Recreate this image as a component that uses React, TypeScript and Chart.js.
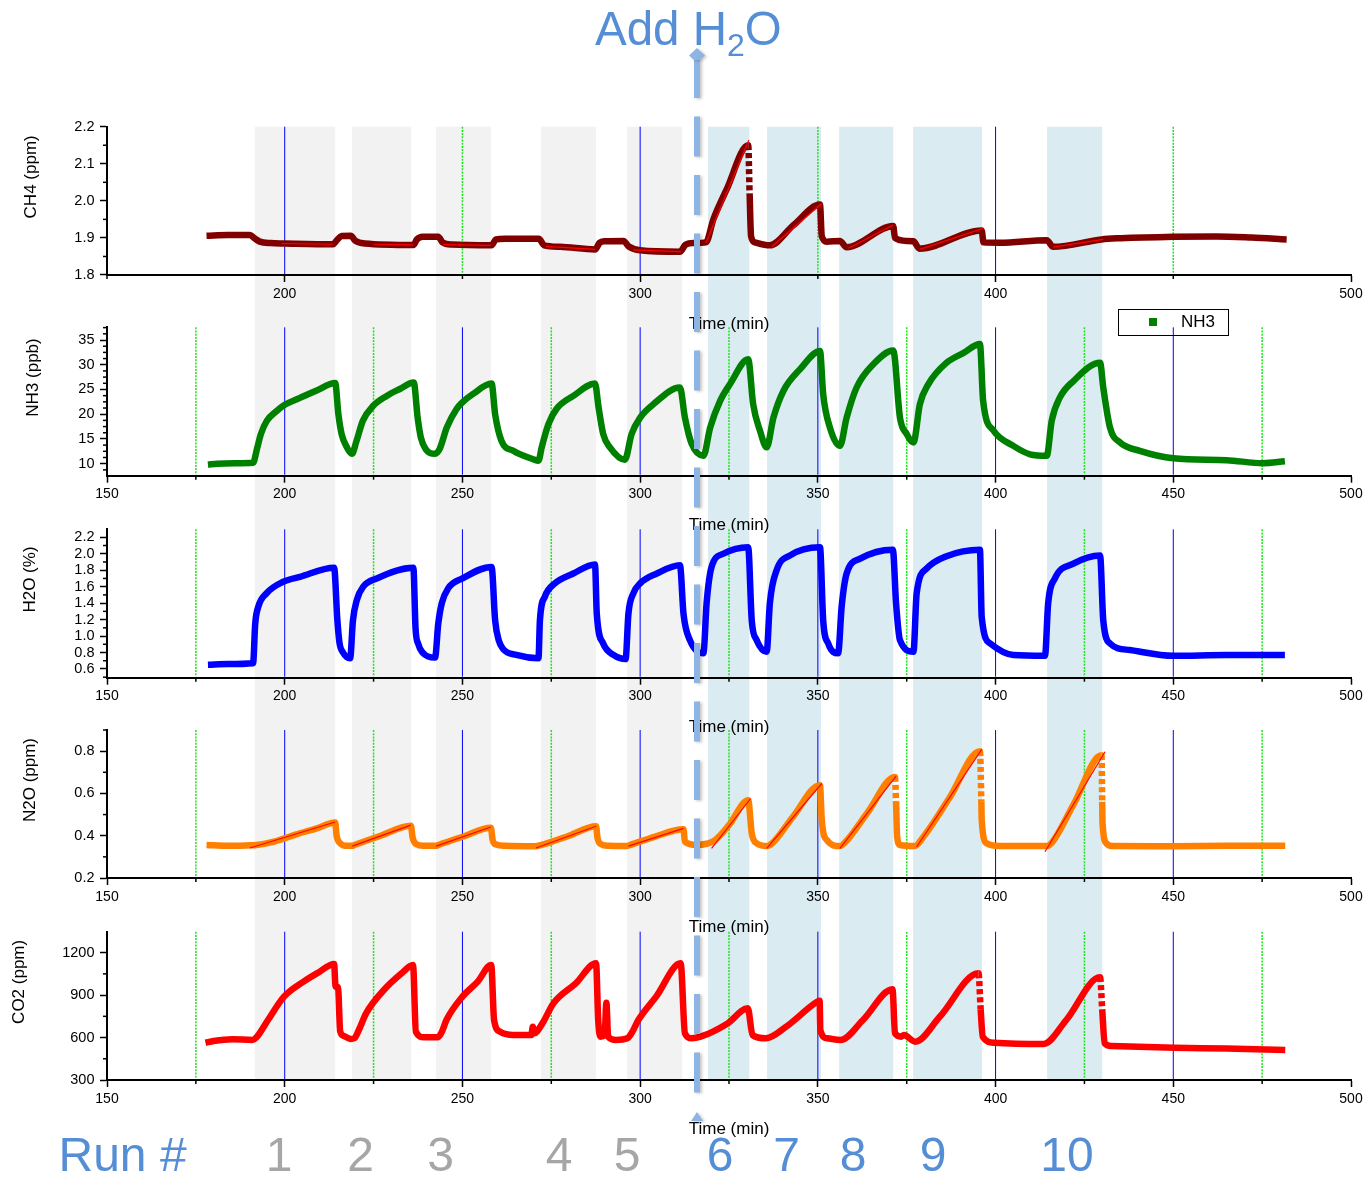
import React, { useEffect, useRef } from 'react';
import { Chart, registerables } from 'chart.js';

Chart.register(...registerables);

const FONT = "'Liberation Sans', Arial, Helvetica, sans-serif";
Chart.defaults.font.family = FONT;
Chart.defaults.color = '#000';

const PAGE_W = 1368;
const PAGE_H = 1177;
const PLOT_LEFT = 107;
const PLOT_RIGHT = 1351;
const X_AXIS_H = 60;

type Pt = [number, number];
type Fit = [number, number, number, number];

// ---------------- data (time in min, value) ----------------
const CH4_PPM: Pt[] = [
  [178.0, 1.906], [184.0, 1.908], [190.2, 1.908], [191.5, 1.899], [193.0, 1.89], [196.0, 1.886], [200.0, 1.885], [213.6, 1.883],
  [214.6, 1.893], [216.0, 1.905], [218.6, 1.906], [219.8, 1.893], [222.5, 1.885], [236.2, 1.881],
  [237.2, 1.896], [238.8, 1.903], [243.2, 1.903], [244.4, 1.888], [247.0, 1.882], [258.2, 1.88],
  [259.4, 1.896], [262.0, 1.898], [271.5, 1.898], [273.0, 1.88], [277.5, 1.876], [287.3, 1.869],
  [288.6, 1.887], [290.0, 1.891], [295.3, 1.892], [296.8, 1.877], [300.0, 1.867], [311.2, 1.863],
  [312.8, 1.882], [315.0, 1.886], [318.5, 1.888], [320.6, 1.95], [324.3, 2.03], [330.4, 2.15], [330.8, 2.02],
  [331.2, 1.905], [332.3, 1.888], [336.5, 1.88], [343.1, 1.934], [350.6, 1.99], [351.1, 1.905], [352.5, 1.89],
  [356.2, 1.892], [358.1, 1.875], [371.2, 1.932], [371.7, 1.9], [375.0, 1.892], [376.9, 1.891], [378.6, 1.871],
  [396.1, 1.92], [396.6, 1.888], [401.2, 1.887], [414.4, 1.894], [416.2, 1.876], [429.8, 1.896], [434.1, 1.899],
  [450.0, 1.903], [462.2, 1.904], [472.0, 1.901], [481.9, 1.896],
];
const CH4_FITS: Fit[] = [
  [199.2, 1.885, 213.5, 1.883], [224.9, 1.883, 236.1, 1.881], [244.6, 1.882, 258.0, 1.88],
  [273.5, 1.877, 287.3, 1.869], [298.0, 1.868, 311.5, 1.863], [318.5, 1.887, 330.6, 2.164],
  [337.0, 1.876, 351.1, 1.993], [358.6, 1.872, 371.2, 1.935], [378.7, 1.869, 396.6, 1.926],
  [416.2, 1.875, 430.3, 1.896],
];
const CH4_DOTTED = [330.4];

const NH3_PPB: Pt[] = [
  [178.4, 9.8], [181.0, 10.0], [186.0, 10.1], [191.1, 10.2], [192.2, 13.0], [193.3, 16.0], [195.0, 18.7], [197.5, 20.5],
  [200.0, 21.9], [204.3, 23.3], [209.0, 24.8], [214.2, 26.3], [215.1, 20.0], [216.0, 16.0], [217.5, 13.3], [218.9, 12.0],
  [220.2, 14.6], [222.0, 18.7], [224.9, 21.7], [228.7, 23.7], [232.4, 25.1], [236.3, 26.4], [237.4, 19.3], [238.3, 15.3],
  [239.7, 12.9], [242.3, 12.0], [243.6, 13.0], [245.6, 17.3], [248.4, 21.1], [250.0, 22.4], [253.0, 24.1], [258.2, 26.2],
  [259.2, 20.0], [261.0, 14.6], [264.3, 12.6], [269.9, 10.9], [271.4, 10.6], [272.3, 13.3], [274.2, 18.0], [276.5, 21.1],
  [281.2, 23.7], [287.3, 26.2], [288.3, 21.4], [289.6, 16.0], [291.5, 13.3], [295.7, 10.8], [297.6, 16.0], [300.0, 19.3],
  [303.7, 22.0], [311.2, 25.4], [312.6, 19.3], [314.5, 14.0], [317.8, 11.6], [319.7, 17.3], [322.5, 22.7], [325.3, 26.1],
  [330.4, 31.1], [331.8, 22.0], [333.7, 16.7], [335.6, 13.3], [337.5, 19.3], [340.3, 24.7], [345.0, 29.1], [350.6, 32.8],
  [351.5, 24.0], [353.4, 17.3], [356.2, 13.6], [358.1, 19.3], [360.9, 25.4], [365.6, 30.1], [371.2, 32.9], [373.1, 19.3],
  [375.0, 16.0], [376.9, 14.3], [378.7, 22.0], [381.1, 26.1], [386.2, 30.4], [391.0, 32.4], [395.6, 34.2], [396.5, 22.7],
  [399.4, 16.7], [405.0, 13.6], [409.7, 11.9], [414.4, 11.6], [415.8, 18.7], [418.1, 23.4], [421.9, 26.7], [429.4, 30.4],
  [430.3, 25.4], [432.2, 17.3], [435.0, 14.3], [440.6, 12.6], [450.0, 11.1], [465.0, 10.7], [475.3, 10.1], [481.4, 10.5],
];

const H2O_PCT: Pt[] = [
  [178.4, 0.65], [184.0, 0.66], [191.1, 0.67], [191.7, 1.15], [192.6, 1.36], [194.9, 1.52], [199.6, 1.66], [204.3, 1.72],
  [213.9, 1.83], [214.8, 1.2], [215.4, 0.92], [216.4, 0.8], [218.4, 0.73], [219.2, 1.19], [220.3, 1.44], [222.1, 1.6],
  [225.9, 1.7], [236.2, 1.83], [236.8, 1.1], [237.6, 0.9], [238.8, 0.8], [242.3, 0.74], [243.2, 1.15], [244.2, 1.4],
  [246.0, 1.58], [250.0, 1.7], [258.2, 1.84], [259.2, 1.19], [260.2, 0.95], [261.5, 0.84], [265.2, 0.77], [271.4, 0.73],
  [271.8, 1.19], [273.2, 1.48], [276.0, 1.64], [281.2, 1.76], [287.3, 1.87], [287.8, 1.27], [289.6, 0.91], [292.5, 0.77],
  [295.9, 0.72], [296.7, 1.27], [298.1, 1.52], [300.0, 1.64], [304.7, 1.76], [311.2, 1.86], [312.2, 1.27], [314.0, 0.95],
  [317.8, 0.79], [318.7, 1.4], [320.1, 1.84], [323.4, 2.0], [330.4, 2.08], [331.4, 1.19], [332.8, 0.95], [335.6, 0.81],
  [336.5, 1.4], [338.4, 1.8], [342.2, 1.98], [350.6, 2.08], [351.5, 1.19], [352.9, 0.91], [355.7, 0.79], [356.7, 1.36],
  [358.1, 1.76], [361.9, 1.94], [371.1, 2.05], [372.0, 1.4], [373.1, 0.95], [376.9, 0.81], [377.8, 1.52], [380.6, 1.82],
  [386.2, 1.97], [395.6, 2.05], [396.1, 1.23], [398.5, 0.91], [405.0, 0.77], [413.9, 0.76], [414.8, 1.4], [416.7, 1.7],
  [421.9, 1.88], [429.4, 1.98], [430.3, 1.19], [432.2, 0.91], [437.8, 0.83], [450.0, 0.76], [465.0, 0.77], [481.4, 0.77],
];

const N2O_PPM: Pt[] = [
  [178.0, 0.356], [184.0, 0.352], [190.5, 0.355], [192.0, 0.356], [197.0, 0.372], [203.0, 0.405], [209.0, 0.435],
  [214.2, 0.462], [214.6, 0.4], [215.5, 0.366], [217.0, 0.353], [219.0, 0.352], [219.6, 0.356], [227.0, 0.4],
  [235.5, 0.447], [236.0, 0.39], [237.0, 0.36], [239.0, 0.352], [242.6, 0.352], [243.2, 0.356], [250.0, 0.395],
  [258.0, 0.438], [258.5, 0.38], [259.5, 0.358], [262.0, 0.352], [270.5, 0.35], [272.0, 0.355], [280.0, 0.4],
  [287.6, 0.445], [288.0, 0.39], [289.0, 0.36], [291.0, 0.352], [296.2, 0.351], [297.0, 0.355], [304.0, 0.395],
  [312.2, 0.43], [312.6, 0.371], [315.9, 0.356], [318.7, 0.362], [321.0, 0.378], [325.0, 0.45], [330.4, 0.568],
  [331.4, 0.411], [332.8, 0.364], [335.6, 0.351], [337.5, 0.37], [343.0, 0.49], [350.6, 0.639], [351.1, 0.474],
  [352.5, 0.38], [356.2, 0.351], [358.0, 0.375], [364.0, 0.51], [371.7, 0.678], [372.0, 0.56], [372.3, 0.395],
  [373.1, 0.356], [377.3, 0.351], [379.5, 0.39], [387.0, 0.578], [395.6, 0.8], [396.0, 0.56], [396.1, 0.474],
  [397.5, 0.364], [401.2, 0.351], [414.4, 0.351], [416.0, 0.37], [422.0, 0.55], [429.8, 0.781], [430.0, 0.56],
  [430.1, 0.458], [431.2, 0.364], [433.1, 0.351], [450.0, 0.35], [465.0, 0.352], [481.5, 0.352],
];
const N2O_FITS: Fit[] = [
  [190.2, 0.342, 214.2, 0.465], [219.0, 0.351, 235.5, 0.45], [242.6, 0.351, 258.0, 0.441],
  [270.7, 0.342, 287.6, 0.445], [296.7, 0.351, 312.2, 0.435], [320.1, 0.34, 331.1, 0.576],
  [335.6, 0.34, 351.1, 0.647], [356.2, 0.34, 372.0, 0.682], [377.8, 0.348, 396.1, 0.808],
  [413.9, 0.324, 430.8, 0.797],
];
const N2O_DOTTED = [371.7, 395.6, 429.8];

const CO2_PPM: Pt[] = [
  [177.7, 563], [180.0, 575], [185.2, 588], [190.9, 583], [192.0, 600], [195.3, 724], [199.8, 889], [205.3, 995],
  [209.5, 1060], [213.9, 1120], [214.3, 960], [215.0, 955], [215.6, 645], [216.6, 612], [218.5, 590], [219.6, 595],
  [220.8, 650], [222.9, 771], [227.9, 936], [232.9, 1054], [236.1, 1113], [236.9, 641], [239.2, 602], [243.0, 602],
  [244.2, 640], [245.5, 724], [250.0, 889], [254.3, 995], [258.1, 1113], [258.9, 724], [260.6, 641], [264.3, 618],
  [269.4, 618], [269.8, 677], [270.2, 630], [272.5, 700], [275.6, 842], [281.9, 983], [287.6, 1125], [288.2, 724],
  [288.8, 606], [290.0, 615], [290.5, 846], [291.0, 606], [293.2, 583], [296.4, 595], [297.8, 640], [299.5, 724],
  [304.5, 889], [311.4, 1125], [312.6, 630], [314.5, 595], [317.0, 606], [324.6, 700], [330.3, 807], [331.6, 618],
  [335.4, 595], [341.1, 677], [349.8, 853], [350.5, 860], [350.7, 653], [352.6, 595], [356.4, 583], [362.7, 724],
  [371.0, 941], [371.7, 630], [373.5, 606], [374.2, 618], [377.4, 571], [384.3, 747], [395.2, 1054], [395.8, 800],
  [396.4, 606], [399.6, 563], [413.5, 554], [419.9, 724], [429.4, 1026], [430.0, 800], [430.7, 559], [432.6, 540],
  [450.4, 528], [465.0, 522], [481.5, 512],
];
const CO2_DOTTED = [395.2, 429.4];

// runs (shaded intervals, min)
const GRAY_RUNS: Pt[] = [[191.6, 214.2], [218.9, 235.6], [242.6, 258.0], [272.1, 287.6], [296.3, 311.8]];
const BLUE_RUNS: Pt[] = [[319.1, 330.7], [335.7, 350.9], [356.0, 371.2], [376.8, 396.2], [414.5, 430.0]];
const H2O_ADD_TIME = 316;
const RUN_LABELS = ['1', '2', '3', '4', '5', '6', '7', '8', '9', '10'];

// ticks
const X_MIN = 150;
const X_MAX = 500;
const X_MAJOR = [150, 200, 250, 300, 350, 400, 450, 500];
const X_MINOR = [175, 225, 275, 325, 375, 425, 475];
const CH4_X_MAJOR = [200, 300, 400, 500];
const CH4_X_MINOR = [150, 250, 350, 450];
const CH4_Y_MAJOR = [1.8, 1.9, 2.0, 2.1, 2.2];
const CH4_Y_MINOR = [1.85, 1.95, 2.05, 2.15];
const NH3_Y_MAJOR = [10, 15, 20, 25, 30, 35];
const NH3_Y_MINOR = [8.75, 11.25, 12.5, 13.75, 16.25, 17.5, 18.75, 21.25, 22.5, 23.75, 26.25, 27.5, 28.75, 31.25, 32.5, 33.75, 36.25, 37.5];
const H2O_Y_MAJOR = [0.6, 0.8, 1.0, 1.2, 1.4, 1.6, 1.8, 2.0, 2.2];
const H2O_Y_MINOR = [0.5, 0.7, 0.9, 1.1, 1.3, 1.5, 1.7, 1.9, 2.1];
const N2O_Y_MAJOR = [0.2, 0.4, 0.6, 0.8];
const N2O_Y_MINOR = [0.3, 0.5, 0.7, 0.9];
const CO2_Y_MAJOR = [300, 600, 900, 1200];
const CO2_Y_MINOR = [450, 750, 1050];

// ---------------- styles ----------------
const GRAY_BAND = '#f2f2f2';
const BLUE_BAND = '#daecf2';
const MAJOR_GRID = '#0000ff';
const MINOR_GRID = '#19e619';
const FIT_COLOR = '#ff0000';
const ARROW_COLOR = 'rgb(141,180,226)';
const TITLE_BLUE = '#558ed5';
const RUN_GRAY = '#a6a6a6';
const RUN_LABEL_X = [279, 360.5, 440.5, 559, 627, 720, 786.6, 853, 933, 1067];

interface PanelSpec {
  label: string;
  series: Pt[];
  color: string;
  yMin: number;
  yMax: number;
  yMajor: number[];
  yMinor: number[];
  yDecimals: number;
  xMajor: number[];
  xMinor: number[];
  fits: Fit[];
  dotted: number[];
  top: number;
  bottom: number;
  titleX: number;
}

const PANELS: PanelSpec[] = [
  { label: 'CH4 (ppm)', series: CH4_PPM, color: '#800000', yMin: 1.8, yMax: 2.2, yMajor: CH4_Y_MAJOR, yMinor: CH4_Y_MINOR, yDecimals: 1,
    xMajor: CH4_X_MAJOR, xMinor: CH4_X_MINOR, fits: CH4_FITS, dotted: CH4_DOTTED, top: 126.7, bottom: 275, titleX: 31.5 },
  { label: 'NH3 (ppb)', series: NH3_PPB, color: '#008000', yMin: 7.57, yMax: 37.57, yMajor: NH3_Y_MAJOR, yMinor: NH3_Y_MINOR, yDecimals: 0,
    xMajor: X_MAJOR, xMinor: X_MINOR, fits: [], dotted: [], top: 327.3, bottom: 475.7, titleX: 33 },
  { label: 'H2O (%)', series: H2O_PCT, color: '#0000ff', yMin: 0.494, yMax: 2.297, yMajor: H2O_Y_MAJOR, yMinor: H2O_Y_MINOR, yDecimals: 1,
    xMajor: X_MAJOR, xMinor: X_MINOR, fits: [], dotted: [], top: 529.3, bottom: 677.7, titleX: 30 },
  { label: 'N2O (ppm)', series: N2O_PPM, color: '#ff8000', yMin: 0.2, yMax: 0.9, yMajor: N2O_Y_MAJOR, yMinor: N2O_Y_MINOR, yDecimals: 1,
    xMajor: X_MAJOR, xMinor: X_MINOR, fits: N2O_FITS, dotted: N2O_DOTTED, top: 730, bottom: 878, titleX: 30 },
  { label: 'CO2 (ppm)', series: CO2_PPM, color: '#ff0000', yMin: 300, yMax: 1348, yMajor: CO2_Y_MAJOR, yMinor: CO2_Y_MINOR, yDecimals: 0,
    xMajor: X_MAJOR, xMinor: X_MINOR, fits: [], dotted: CO2_DOTTED, top: 931.7, bottom: 1080, titleX: 19 },
];

function makeDeco(p: PanelSpec, idx: number) {
  return {
    id: 'deco' + idx,
    beforeDraw(chart: any) {
      if (idx !== 0) return;
      const ctx = chart.ctx;
      const xs = chart.scales.x;
      const top = PANELS[0].top;
      const bottom = PANELS[PANELS.length - 1].bottom - 1;
      ctx.save();
      const paint = (runs: Pt[], color: string) => {
        ctx.fillStyle = color;
        runs.forEach(([a, b]) => {
          const x0 = xs.getPixelForValue(a);
          const x1 = xs.getPixelForValue(b);
          ctx.fillRect(x0, top, x1 - x0, bottom - top);
        });
      };
      paint(GRAY_RUNS, GRAY_BAND);
      paint(BLUE_RUNS, BLUE_BAND);
      ctx.restore();
    },
    beforeDatasetsDraw(chart: any) {
      const ctx = chart.ctx;
      const a = chart.chartArea;
      const xs = chart.scales.x;
      ctx.save();
      ctx.lineWidth = 1;
      ctx.strokeStyle = MAJOR_GRID;
      p.xMajor.forEach((v) => {
        if (v <= xs.min || v >= xs.max) return;
        const px = xs.getPixelForValue(v);
        ctx.beginPath();
        ctx.moveTo(px, a.top);
        ctx.lineTo(px, a.bottom - 1);
        ctx.stroke();
      });
      ctx.strokeStyle = MINOR_GRID;
      ctx.lineWidth = 1.5;
      ctx.setLineDash([2, 1.2]);
      p.xMinor.forEach((v) => {
        if (v <= xs.min || v >= xs.max) return;
        const px = xs.getPixelForValue(v);
        ctx.beginPath();
        ctx.moveTo(px, a.top);
        ctx.lineTo(px, a.bottom - 1);
        ctx.stroke();
      });
      ctx.restore();
    },
    afterDraw(chart: any) {
      const ctx = chart.ctx;
      const a = chart.chartArea;
      const xs = chart.scales.x;
      const ys = chart.scales.y;
      ctx.save();
      // minor ticks
      ctx.strokeStyle = '#000';
      ctx.lineWidth = 1.5;
      p.xMinor.forEach((v) => {
        const px = xs.getPixelForValue(v);
        ctx.beginPath();
        ctx.moveTo(px, a.bottom);
        ctx.lineTo(px, a.bottom + 4);
        ctx.stroke();
      });
      p.yMinor.forEach((v) => {
        const py = ys.getPixelForValue(v);
        ctx.beginPath();
        ctx.moveTo(a.left - 4, py);
        ctx.lineTo(a.left, py);
        ctx.stroke();
      });
      // y axis title
      ctx.fillStyle = '#000';
      ctx.font = `17px ${FONT}`;
      ctx.textAlign = 'center';
      ctx.textBaseline = 'middle';
      ctx.translate(p.titleX, (a.top + a.bottom) / 2 - 24);
      ctx.rotate(-Math.PI / 2);
      ctx.fillText(p.label, 0, 0);
      ctx.restore();

      if (idx === PANELS.length - 1) {
        // "Add H2O" dashed arrow spanning all panels
        const x = xs.getPixelForValue(H2O_ADD_TIME);
        ctx.save();
        ctx.shadowColor = 'rgba(0,0,0,0.22)';
        ctx.shadowBlur = 3;
        ctx.shadowOffsetX = 2;
        ctx.shadowOffsetY = 1;
        ctx.strokeStyle = ARROW_COLOR;
        ctx.lineWidth = 6;
        ctx.setLineDash([40, 18.5]);
        ctx.beginPath();
        ctx.moveTo(x, 58);
        ctx.lineTo(x, 1111);
        ctx.stroke();
        ctx.setLineDash([]);
        ctx.fillStyle = ARROW_COLOR;
        ctx.beginPath();
        ctx.moveTo(x, 48);
        ctx.lineTo(x + 8, 55.5);
        ctx.lineTo(x + 3, 60);
        ctx.lineTo(x - 3, 60);
        ctx.lineTo(x - 8, 55.5);
        ctx.closePath();
        ctx.fill();
        ctx.beginPath();
        ctx.moveTo(x, 1112);
        ctx.lineTo(x + 6, 1121);
        ctx.lineTo(x - 6, 1121);
        ctx.closePath();
        ctx.fill();
        ctx.restore();
      }
    },
  };
}

function buildChart(canvas: HTMLCanvasElement, p: PanelSpec, idx: number) {
  const datasets: any[] = [
    {
      data: p.series.map(([x, y]) => ({ x, y })),
      borderColor: p.color,
      backgroundColor: p.color,
      borderWidth: 6.5,
      borderJoinStyle: 'round',
      borderCapStyle: 'butt',
      pointRadius: 0,
      pointHoverRadius: 0,
      cubicInterpolationMode: 'monotone',
      fill: false,
      order: 2,
      segment: {
        borderDash: (ctx: any) => {
          const t = p.series[ctx.p0DataIndex] ? p.series[ctx.p0DataIndex][0] : NaN;
          return p.dotted.some((d) => Math.abs(d - t) < 1e-6) ? [5, 3] : undefined;
        },
      },
    },
  ];
  p.fits.forEach((f) => {
    datasets.push({
      data: [{ x: f[0], y: f[1] }, { x: f[2], y: f[3] }],
      borderColor: FIT_COLOR,
      borderWidth: 1.2,
      pointRadius: 0,
      pointHoverRadius: 0,
      fill: false,
      tension: 0,
      order: 1,
    });
  });

  return new Chart(canvas, {
    type: 'line',
    data: { datasets },
    options: {
      animation: false,
      responsive: false,
      devicePixelRatio: 1,
      events: [],
      layout: { padding: { left: 0, right: PAGE_W - PLOT_RIGHT, top: p.top, bottom: PAGE_H - p.bottom - X_AXIS_H } },
      plugins: { legend: { display: false }, tooltip: { enabled: false }, title: { display: false } },
      scales: {
        x: {
          type: 'linear',
          min: X_MIN,
          max: X_MAX,
          afterBuildTicks: (s: any) => {
            s.ticks = p.xMajor.map((v) => ({ value: v }));
          },
          afterFit: (s: any) => {
            s.height = X_AXIS_H;
          },
          ticks: {
            autoSkip: false,
            maxRotation: 0,
            padding: 3.5,
            color: '#000',
            font: { size: 14, family: FONT },
            callback: (v: any) => String(v),
          },
          grid: { drawOnChartArea: false, drawTicks: true, tickLength: 7, tickWidth: 1.5, tickColor: '#000', color: '#000' },
          border: { display: true, color: '#000', width: 2 },
          title: { display: true, text: 'Time (min)', color: '#000', font: { size: 17, family: FONT }, padding: { top: 0, bottom: 0 } },
        },
        y: {
          type: 'linear',
          min: p.yMin,
          max: p.yMax,
          afterBuildTicks: (s: any) => {
            s.ticks = p.yMajor.map((v) => ({ value: v }));
          },
          afterFit: (s: any) => {
            s.width = PLOT_LEFT;
          },
          ticks: {
            autoSkip: false,
            padding: 5.5,
            color: '#000',
            font: { size: 14.5, family: FONT },
            callback: (v: any) => Number(v).toFixed(p.yDecimals),
          },
          grid: { drawOnChartArea: false, drawTicks: true, tickLength: 7, tickWidth: 1.5, tickColor: '#000', color: '#000' },
          border: { display: true, color: '#000', width: 2 },
          title: { display: false },
        },
      },
    } as any,
    plugins: [makeDeco(p, idx)],
  });
}

export default function App() {
  const refs = useRef<(HTMLCanvasElement | null)[]>([]);

  useEffect(() => {
    const charts = PANELS.map((p, i) => buildChart(refs.current[i] as HTMLCanvasElement, p, i));
    return () => charts.forEach((c) => c.destroy());
  }, []);

  const bigText: React.CSSProperties = {
    position: 'absolute',
    top: 1131,
    fontFamily: FONT,
    fontSize: 48,
    lineHeight: '48px',
    whiteSpace: 'nowrap',
  };

  return (
    <div style={{ position: 'absolute', left: 0, top: 0, width: PAGE_W, height: PAGE_H, background: '#fff', overflow: 'hidden' }}>
      {PANELS.map((p, i) => (
        <canvas
          key={p.label}
          ref={(el) => {
            refs.current[i] = el;
          }}
          width={PAGE_W}
          height={PAGE_H}
          style={{ position: 'absolute', left: 0, top: 0, width: PAGE_W, height: PAGE_H }}
        />
      ))}

      <div
        style={{
          position: 'absolute',
          left: 595,
          top: -1.5,
          height: 60,
          fontFamily: FONT,
          fontSize: 47.5,
          lineHeight: '60px',
          color: TITLE_BLUE,
          whiteSpace: 'nowrap',
        }}
      >
        Add H<span style={{ fontSize: 32, position: 'relative', top: 11, lineHeight: 0 }}>2</span>O
      </div>

      <div
        style={{
          position: 'absolute',
          left: 1118,
          top: 309,
          width: 111,
          height: 27,
          border: '1.5px solid #000',
          boxSizing: 'border-box',
          fontFamily: FONT,
        }}
      >
        <div style={{ position: 'absolute', left: 30, top: 8, width: 8, height: 8, background: '#008000' }} />
        <div style={{ position: 'absolute', left: 62, top: 2.5, fontSize: 17, lineHeight: '17px', color: '#000' }}>NH3</div>
      </div>

      <div style={{ ...bigText, left: 58.5, color: TITLE_BLUE }}>Run #</div>
      {RUN_LABELS.map((r, i) => (
        <div
          key={r}
          style={{ ...bigText, left: RUN_LABEL_X[i], transform: 'translateX(-50%)', color: i < 5 ? RUN_GRAY : TITLE_BLUE }}
        >
          {r}
        </div>
      ))}
    </div>
  );
}
